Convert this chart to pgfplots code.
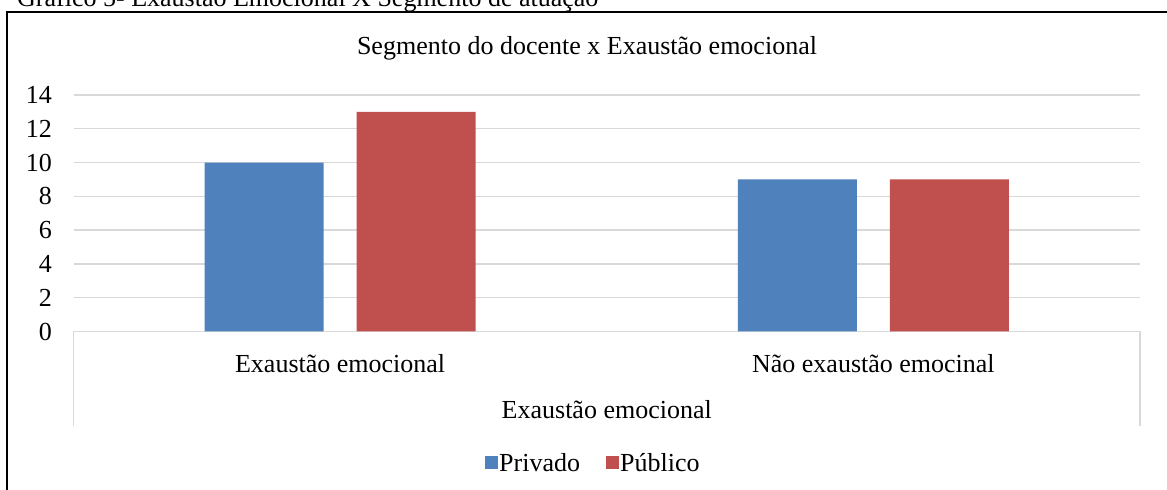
\documentclass[border=0pt]{standalone}
\usepackage{fontspec}
\setmainfont{Liberation Serif}
\usepackage{pgfplots}
\pgfplotsset{compat=1.18}
\definecolor{privado}{HTML}{4F81BD}
\definecolor{publico}{HTML}{C0504D}
\definecolor{gridc}{HTML}{D9D9D9}
\begin{document}
\begin{tikzpicture}[font=\fontsize{26bp}{31bp}\selectfont]
\path[use as bounding box] (0,0) rectangle (1167bp,490bp);
\node[anchor=base west, inner sep=0] at (17bp,483bp) {Gráfico 5- Exaustão Emocional X Segmento de atuação};
\draw[line width=1.5bp] (1180bp,478bp) -- (7bp,478bp) -- (7bp,-10bp);
\node[anchor=base, inner sep=0] at (587bp,435bp) {Segmento do docente x Exaustão emocional};
\begin{axis}[
  at={(73.5bp,158.5bp)}, anchor=south west,
  scale only axis, width=1066.5bp, height=236.5bp,
  xmin=-0.5, xmax=1.5, ymin=0, ymax=14,
  ytick={0,2,...,14},
  xtick={0,1}, xticklabels={Exaustão emocional, Não exaustão emocinal},
  axis x line*=bottom, axis y line*=left,
  y axis line style={draw=none},
  x axis line style={gridc, line width=1.3bp},
  major tick length=0pt,
  ymajorgrids, grid style={gridc, line width=1.3bp},
  /pgf/number format/assume math mode=true,
  yticklabel style={anchor=east, inner sep=0pt, xshift=-21.5bp},
  xticklabel style={anchor=base, inner sep=0pt, yshift=-40.5bp},
  xlabel={Exaustão emocional},
  xlabel style={at={(axis description cs:0.5,-0.3658)}, anchor=base, inner sep=0pt},
  clip=false,
  legend columns=2,
  legend style={at={(axis description cs:0.487,-0.556)}, anchor=center, draw=none, fill=none,
    /tikz/every even column/.append style={column sep=24bp},
    nodes={inner sep=1.5bp}},
]
\addplot[ybar, fill=privado, draw=none, bar width=0.2231, bar shift=-0.1425,
  legend image code/.code={\fill[privado] (0bp,-6.5bp) rectangle (13bp,6.5bp);}]
  coordinates {(0,10) (1,9)};
\addlegendentry{Privado}
\addplot[ybar, fill=publico, draw=none, bar width=0.2231, bar shift=0.1425,
  legend image code/.code={\fill[publico] (0bp,-6.5bp) rectangle (13bp,6.5bp);}]
  coordinates {(0,13) (1,9)};
\addlegendentry{Público}
\draw[gridc, line width=1.3bp] (rel axis cs:0,0) -- ([yshift=-94.5bp]rel axis cs:0,0);
\draw[gridc, line width=1.3bp] (rel axis cs:1,0) -- ([yshift=-94.5bp]rel axis cs:1,0);
\end{axis}
\end{tikzpicture}
\end{document}
